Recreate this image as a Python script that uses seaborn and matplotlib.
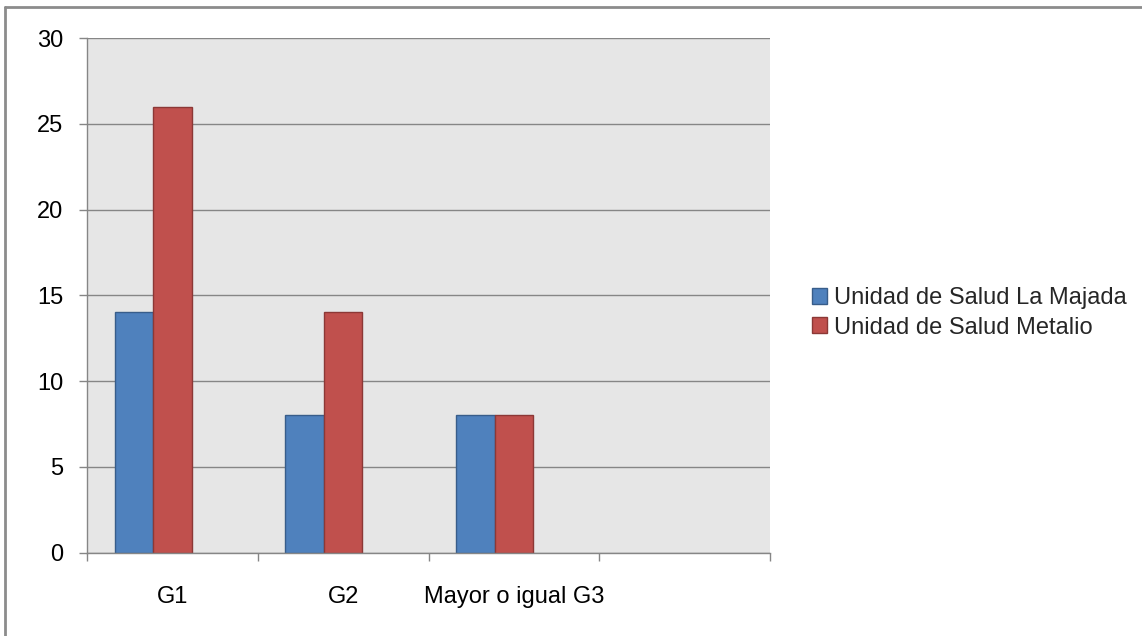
import numpy as np
import pandas as pd
import matplotlib
matplotlib.use("Agg")
import matplotlib.pyplot as plt
import seaborn as sns
from matplotlib.lines import Line2D

categories = ["G1", "G2", "Mayor o igual G3", ""]
series_names = ["Unidad de Salud La Majada", "Unidad de Salud Metalio", "Serie3"]
la_majada = [14, 8, 8, np.nan]
metalio = [26, 14, 8, np.nan]
serie3 = [np.nan, np.nan, np.nan, np.nan]
y_ticks = [0, 5, 10, 15, 20, 25, 30]

fill_colors = ["#4f81bd", "#c0504d", "#9bbb59"]
edge_colors = ["#385d8a", "#8c3836", "#71893f"]

rows = []
for name, vals in zip(series_names, [la_majada, metalio, serie3]):
    for c, v in zip(categories, vals):
        rows.append({"cat": c, "serie": name, "valor": v})
df = pd.DataFrame(rows)

sns.set_theme(style="white")
plt.rcParams["font.family"] = ["Liberation Sans", "DejaVu Sans"]

W, H = 1142, 636
fig = plt.figure(figsize=(W / 100, H / 100), dpi=100)
ax = fig.add_axes([87 / W, 1 - 552.6 / H, (770 - 87) / W, (552.6 - 38) / H])

sns.barplot(data=df, x="cat", y="valor", hue="serie", order=categories,
            hue_order=series_names, palette=fill_colors, width=0.675,
            dodge=True, ax=ax, legend=True, saturation=1, errorbar=None,
            linewidth=1)

# edge colours per series
for cont, ec in zip(ax.containers, edge_colors):
    for p in cont.patches:
        p.set_edgecolor(ec)
        p.set_zorder(3)

ax.set_facecolor("#e6e6e6")
ax.set_ylim(0, 30)
ax.set_xlim(-0.5, len(categories) - 0.5)
ax.set_yticks(y_ticks)
ax.set_yticklabels([str(t) for t in y_ticks])
ax.yaxis.grid(True, color="#868686", linewidth=1)
ax.set_axisbelow(True)
ax.set_xlabel("")
ax.set_ylabel("")

for s in ["top", "right"]:
    ax.spines[s].set_visible(False)
for s in ["left", "bottom"]:
    ax.spines[s].set_color("#868686")
    ax.spines[s].set_linewidth(1)
    ax.spines[s].set_zorder(4)

ax.tick_params(axis="y", which="major", left=True, length=6, width=1,
               color="#868686", pad=11, labelsize=17, labelcolor="black")
ax.set_xticks(np.arange(len(categories)))
ax.set_xticklabels(categories)
ax.set_xticks(np.arange(len(categories) + 1) - 0.5, minor=True)
ax.tick_params(axis="x", which="major", bottom=True, length=0, pad=24,
               labelsize=17, labelcolor="black")
ax.tick_params(axis="x", which="minor", bottom=True, length=6, width=1,
               color="#868686")

handles, labels = ax.get_legend_handles_labels()
ax.get_legend().remove()
leg = fig.legend(handles[:2], labels[:2], loc="center left",
                 bbox_to_anchor=(812 / W, 1 - 313 / H), frameon=False,
                 fontsize=17, handlelength=0.65, handleheight=0.65,
                 handletextpad=0.3, labelspacing=0.3, borderaxespad=0,
                 borderpad=0)
for h, ec in zip(leg.legend_handles, edge_colors):
    h.set_edgecolor(ec)

# outer chart border (top and left visible)
fig.add_artist(Line2D([5 / W, 5 / W], [0, 1 - 7 / H], color="#8c8c8c", lw=2,
                      transform=fig.transFigure))
fig.add_artist(Line2D([5 / W, 1], [1 - 7 / H, 1 - 7 / H], color="#8c8c8c", lw=2,
                      transform=fig.transFigure))

fig.savefig("out.png", dpi=100, facecolor="white")
